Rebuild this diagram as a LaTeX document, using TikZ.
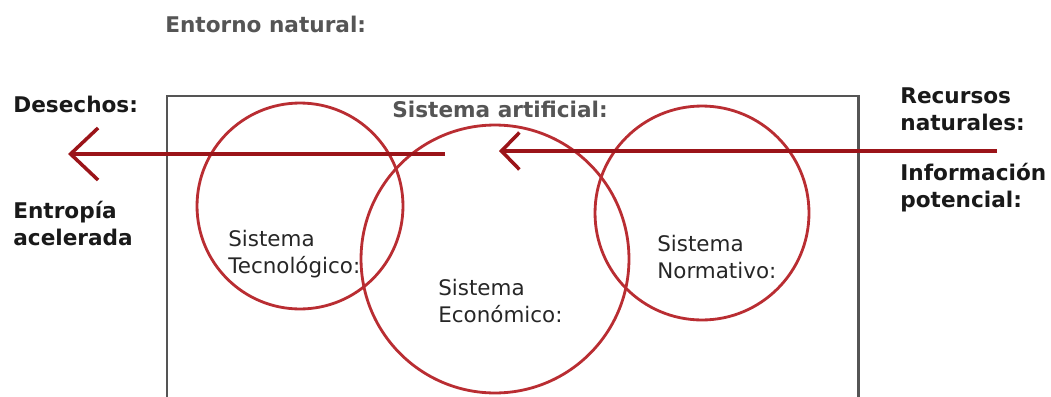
\documentclass[tikz,border=0pt]{standalone}
\usepackage{fontspec}
\setmainfont{DejaVu Sans}
\usetikzlibrary{arrows.meta,positioning}
\definecolor{rojocirculo}{RGB}{185,45,50}
\definecolor{rojoflecha}{RGB}{155,20,25}
\definecolor{grismarco}{RGB}{85,85,85}
\tikzset{
    sistema/.style={circle,draw=rojocirculo,line width=1.6pt,inner sep=0pt},
    rotulo/.style={anchor=base west,inner sep=0pt,align=left,text=black!85,font=\fontsize{12.2}{15}\selectfont},
    titulo/.style={anchor=base west,inner sep=0pt,align=left,text=black!90,font=\bfseries\fontsize{12.3}{15.3}\selectfont},
    flujo/.style={draw=rojoflecha,line width=2pt}
}

\begin{document}
\begin{tikzpicture}[x=0.02cm,y=-0.02cm]
    \useasboundingbox (0,0) rectangle (1051,396);

    % marco del sistema artificial
    \draw[grismarco,line width=1.7pt] (167,410) -- (167,96) -- (858,96) -- (858,410);

    \node[sistema,minimum size=4.12cm] (tecno) at (300,206) {};
    \node[sistema,minimum size=5.36cm] (econ)  at (495,259) {};
    \node[sistema,minimum size=4.28cm] (norm)  at (702,213) {};

    % el ancla base cae en la ultima linea
    \node[titulo,text=grismarco] (entorno)    at (165,32)  {Entorno natural:};
    \node[titulo,text=grismarco] (artificial) at (392,117) {Sistema artificial:};
    \node[titulo] (desechos)    at (13,112)  {Desechos:};
    \node[titulo] (entropia)    at (13,245)  {Entropía\\acelerada};
    \node[titulo] (recursos)    at (900,130) {Recursos\\naturales:};
    \node[titulo] (informacion) at (900,207) {Información\\potencial:};

    \node[rotulo] (rot tecno) at (228,273) {Sistema\\Tecnológico:};
    \node[rotulo] (rot econ)  at (438,322) {Sistema\\Económico:};
    \node[rotulo] (rot norm)  at (657,278) {Sistema\\Normativo:};

    % flujos de entrada y salida
    \coordinate (salida)  at (445,154);
    \coordinate (vertido) at (68,154);
    \coordinate (fuente)  at (997,151);
    \coordinate (entrada) at (499,151);
    \draw[flujo,-{Straight Barb[length=5.5mm,width=10.4mm]}] (salida) -- (vertido);
    \draw[flujo,-{Straight Barb[length=3.6mm,width=7.4mm]}] (fuente) -- (entrada);

\end{tikzpicture}
\end{document}
